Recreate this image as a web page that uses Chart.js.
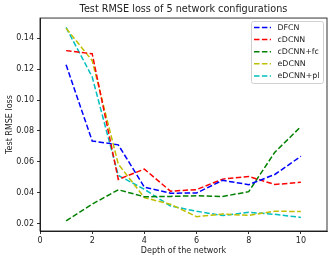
<!DOCTYPE html>
<html>
<head>
<meta charset="utf-8">
<script src="https://cdn.jsdelivr.net/npm/chart.js@4.4.1/dist/chart.umd.min.js"></script>
<style>
  html, body { margin: 0; padding: 0; background: #fff; }
  #c { display: block; }
</style>
</head>
<body>
<canvas id="c" width="333" height="262"></canvas>
<script>
// ---- data ----
const depths = [1, 2, 3, 4, 5, 6, 7, 8, 9, 10];
const seriesNames = ["DFCN", "cDCNN", "cDCNN+fc", "eDCNN", "eDCNN+pl"];
const dfcn     = [0.1228, 0.0735, 0.0710, 0.0436, 0.0397, 0.0398, 0.0480, 0.0452, 0.0518, 0.0636];
const cdcnn    = [0.1320, 0.1300, 0.0486, 0.0553, 0.0410, 0.0420, 0.0488, 0.0505, 0.0453, 0.0468];
const cdcnnFc  = [0.0217, 0.0326, 0.0419, 0.0374, 0.0376, 0.0380, 0.0375, 0.0407, 0.0662, 0.0828];
const edcnn    = [0.1465, 0.1255, 0.0585, 0.0368, 0.0325, 0.0245, 0.0262, 0.0253, 0.0280, 0.0278];
const edcnnPl  = [0.1470, 0.1150, 0.0512, 0.0422, 0.0314, 0.0280, 0.0252, 0.0273, 0.0260, 0.0240];
const xTicks = [0, 2, 4, 6, 8, 10];
const yTicks = [0.02, 0.04, 0.06, 0.08, 0.10, 0.12, 0.14];
const titleText = "Test RMSE loss of 5 network configurations";
const xLabel = "Depth of the network";
const yLabel = "Test RMSE loss";

const colors = ["#0000ff", "#ff0000", "#008000", "#bfbf00", "#00bfbf"];
const allSeries = [dfcn, cdcnn, cdcnnFc, edcnn, edcnnPl];
const FONT = "'DejaVu Sans', sans-serif";
const DASH = [5.5, 2.4];
const TXT = '#222';

const datasets = allSeries.map((s, i) => ({
  label: seriesNames[i],
  data: s.map((v, j) => ({ x: depths[j], y: v })),
  borderColor: colors[i],
  backgroundColor: colors[i],
  borderWidth: 1.5,
  borderDash: DASH,
  pointRadius: 0,
  fill: false,
  tension: 0
}));

const framePlugin = {
  id: 'frame',
  afterDatasetsDraw(chart) {
    const ctx = chart.ctx, a = chart.chartArea;
    ctx.save();
    ctx.strokeStyle = '#000';
    ctx.lineWidth = 0.8;
    ctx.strokeRect(a.left, a.top, a.right - a.left, a.bottom - a.top);
    // legend
    const bx = 251.5, by = 21.5, bw = 72, bh = 62;
    ctx.fillStyle = 'rgba(255,255,255,0.8)';
    ctx.strokeStyle = '#d0d0d0';
    ctx.lineWidth = 1;
    const r = 2;
    ctx.beginPath();
    ctx.moveTo(bx + r, by);
    ctx.lineTo(bx + bw - r, by); ctx.arcTo(bx + bw, by, bx + bw, by + r, r);
    ctx.lineTo(bx + bw, by + bh - r); ctx.arcTo(bx + bw, by + bh, bx + bw - r, by + bh, r);
    ctx.lineTo(bx + r, by + bh); ctx.arcTo(bx, by + bh, bx, by + bh - r, r);
    ctx.lineTo(bx, by + r); ctx.arcTo(bx, by, bx + r, by, r);
    ctx.closePath();
    ctx.fill(); ctx.stroke();
    ctx.font = "7.9px " + FONT;
    ctx.textBaseline = 'middle';
    ctx.textAlign = 'left';
    chart.data.datasets.forEach((d, i) => {
      const y = 27.5 + i * 12.1;
      ctx.strokeStyle = d.borderColor;
      ctx.lineWidth = 1.5;
      ctx.setLineDash(DASH);
      ctx.beginPath();
      ctx.moveTo(254, y); ctx.lineTo(271, y);
      ctx.stroke();
      ctx.setLineDash([]);
      ctx.fillStyle = TXT;
      ctx.fillText(d.label, 277.5, y);
    });
    ctx.restore();
  }
};

new Chart(document.getElementById('c'), {
  type: 'line',
  data: { datasets },
  plugins: [framePlugin],
  options: {
    responsive: false,
    animation: false,
    devicePixelRatio: 1,
    layout: { padding: { left: 0, right: 6, top: 0, bottom: 0 } },
    plugins: {
      legend: { display: false },
      tooltip: { enabled: false },
      title: {
        display: true,
        text: titleText,
        fullSize: false,
        color: TXT,
        font: { family: FONT, size: 9.7, weight: 'normal' },
        padding: { top: 4, bottom: 2.4 }
      }
    },
    scales: {
      x: {
        type: 'linear',
        min: 0, max: 11,
        afterFit: s => { s.height = 31; },
        afterBuildTicks: s => { s.ticks = xTicks.map(v => ({ value: v })); },
        grid: { drawOnChartArea: false, drawTicks: true, tickLength: 3, color: '#000', lineWidth: 0.8 },
        border: { display: true, color: '#000', width: 0.8 },
        ticks: { color: TXT, font: { family: FONT, size: 8 }, padding: 2, maxRotation: 0,
                 callback: v => String(v) },
        title: { display: true, text: xLabel, color: TXT, font: { family: FONT, size: 8 },
                 padding: { top: 0, bottom: 6 } }
      },
      y: {
        type: 'linear',
        min: 0.0152, max: 0.1531,
        afterFit: s => { s.width = 40; },
        afterBuildTicks: s => { s.ticks = yTicks.map(v => ({ value: v })); },
        grid: { drawOnChartArea: false, drawTicks: true, tickLength: 3, color: '#000', lineWidth: 0.8 },
        border: { display: true, color: '#000', width: 0.8 },
        ticks: { color: TXT, font: { family: FONT, size: 8 }, padding: 3,
                 callback: v => Number(v).toFixed(2) },
        title: { display: true, text: yLabel, color: TXT, font: { family: FONT, size: 8 },
                 padding: { top: 5.2, bottom: 0 } }
      }
    }
  }
});
</script>
</body>
</html>
